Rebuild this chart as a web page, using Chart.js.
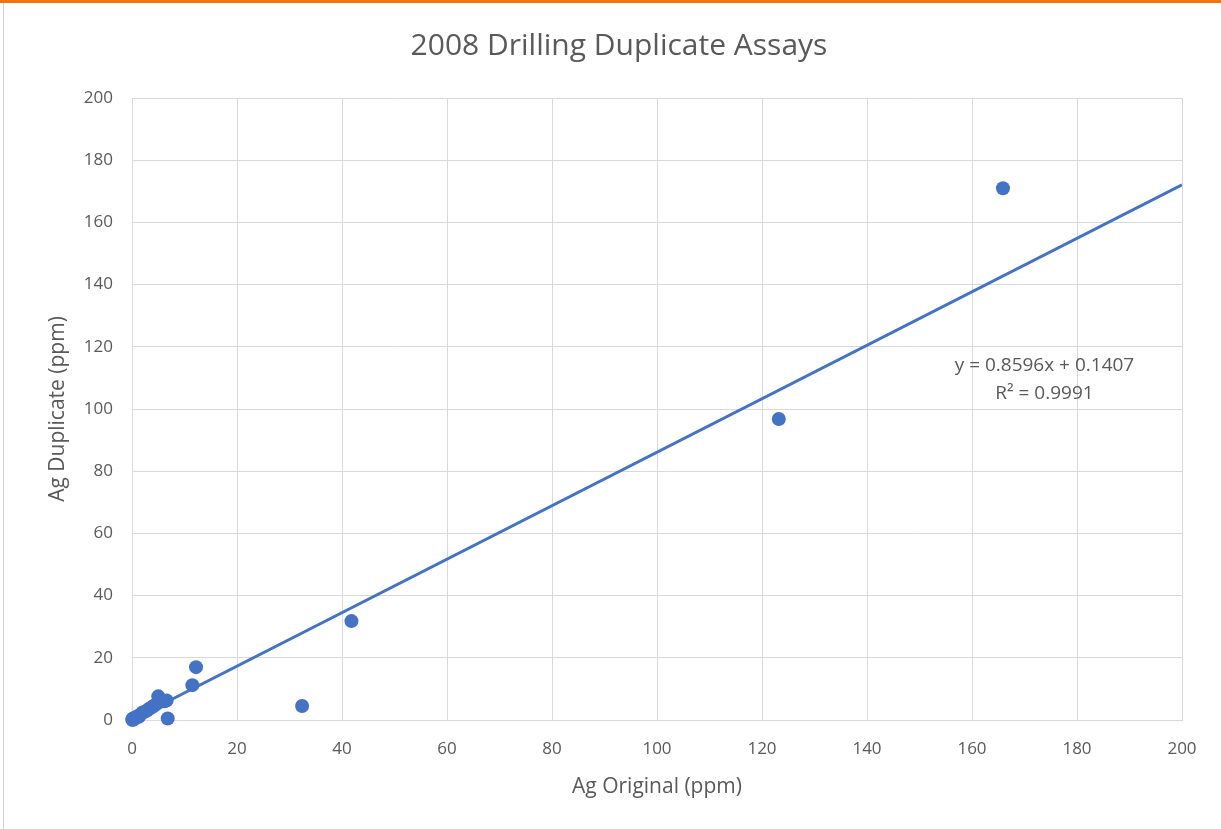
<!DOCTYPE html>
<html>
<head>
<meta charset="utf-8">
<script src="https://cdn.jsdelivr.net/npm/chart.js@4.4.1/dist/chart.umd.min.js"></script>
<style>
  html, body { margin: 0; padding: 0; background: #ffffff; }
  #wrap { position: relative; width: 1221px; height: 829px; overflow: hidden; background: #ffffff; }
  #topbar { position: absolute; left: 0; top: 0; width: 1221px; height: 3px; background: #f5730f; }
  #leftbar { position: absolute; left: 3px; top: 3px; width: 1px; height: 826px; background: #d4d4d4; }
  canvas { position: absolute; left: 0; top: 0; }
</style>
</head>
<body>
<div id="wrap">
  <canvas id="c" width="1221" height="829"></canvas>
  <div id="topbar"></div>
  <div id="leftbar"></div>
</div>
<script>
const chartTitle = "2008 Drilling Duplicate Assays";
const xAxisTitle = "Ag Original (ppm)";
const yAxisTitle = "Ag Duplicate (ppm)";
const equationLines = ["y = 0.8596x + 0.1407", "R\u00B2 = 0.9991"];

// Ag original values (ppm)
const agOriginal = [0.05, 0.1, 0.2, 0.3, 0.5, 0.7, 1.0, 1.3, 1.6, 2.0, 2.4, 2.9, 3.3, 3.8, 4.2, 4.7, 5.0, 5.4, 6.2, 6.6, 6.8, 11.5, 12.2, 32.4, 41.8, 123.2, 165.9];
// Ag duplicate values (ppm)
const agDuplicate = [0.1, 0.3, 0.1, 0.6, 0.4, 0.9, 1.1, 1.0, 1.8, 2.4, 2.6, 3.1, 3.6, 4.2, 4.6, 5.2, 7.6, 5.9, 6.0, 6.3, 0.5, 11.2, 17.0, 4.5, 31.8, 96.8, 171.0];

// Linear trendline end points as drawn
const trendX = [0, 200];
const trendY = [0.14, 172.06];

const xTicksMin = 0, xTicksMax = 200, xStep = 20;
const yTicksMin = 0, yTicksMax = 200, yStep = 20;

const FONT = '"Open Sans", "Liberation Sans", sans-serif';
const TEXT = '#595959';
const GRID = '#d9d9d9';
const BLUE = '#4472C4';

const scatterData = agOriginal.map((x, i) => ({ x: x, y: agDuplicate[i] }));
const trendData = trendX.map((x, i) => ({ x: x, y: trendY[i] }));

const overlay = {
  id: 'overlay',
  afterDraw(chart) {
    const ctx = chart.ctx;
    ctx.save();
    ctx.fillStyle = TEXT;
    ctx.textAlign = 'center';
    ctx.textBaseline = 'middle';
    ctx.font = '30px ' + FONT;
    ctx.fillText(chartTitle, 619, 46);
    ctx.font = '19px ' + FONT;
    const xs = chart.scales.x, ys = chart.scales.y;
    const cx = xs.getPixelForValue(173.8);
    ctx.fillText(equationLines[0], cx, ys.getPixelForValue(113.8));
    ctx.fillText(equationLines[1], cx, ys.getPixelForValue(104.8));
    ctx.restore();
  }
};

new Chart(document.getElementById('c'), {
  data: {
    datasets: [
      {
        type: 'line',
        data: trendData,
        borderColor: BLUE,
        borderWidth: 3,
        pointRadius: 0,
        fill: false,
        order: 0
      },
      {
        type: 'scatter',
        data: scatterData,
        backgroundColor: BLUE,
        borderColor: BLUE,
        borderWidth: 0,
        pointRadius: 7,
        clip: false,
        order: 1
      }
    ]
  },
  options: {
    responsive: false,
    animation: false,
    devicePixelRatio: 1,
    layout: { padding: { top: 98, right: 39, bottom: 0, left: 0 } },
    plugins: {
      legend: { display: false },
      title: { display: false },
      tooltip: { enabled: false }
    },
    scales: {
      x: {
        type: 'linear',
        min: xTicksMin, max: xTicksMax,
        ticks: { stepSize: xStep, color: TEXT, font: { family: FONT, size: 17 }, padding: 19 },
        grid: { color: GRID, lineWidth: 1, drawTicks: false },
        border: { color: GRID },
        title: { display: true, text: xAxisTitle, color: TEXT, font: { family: FONT, size: 21 }, padding: { bottom: 29 } },
        afterFit(scale) { scale.height = 109; }
      },
      y: {
        type: 'linear',
        min: yTicksMin, max: yTicksMax,
        ticks: { stepSize: yStep, color: TEXT, font: { family: FONT, size: 17 }, padding: 19 },
        grid: { color: GRID, lineWidth: 1, drawTicks: false },
        border: { color: GRID },
        title: { display: true, text: yAxisTitle, color: TEXT, font: { family: FONT, size: 21 }, padding: { top: 45 } },
        afterFit(scale) { scale.width = 132; }
      }
    }
  },
  plugins: [overlay]
});
</script>
</body>
</html>
